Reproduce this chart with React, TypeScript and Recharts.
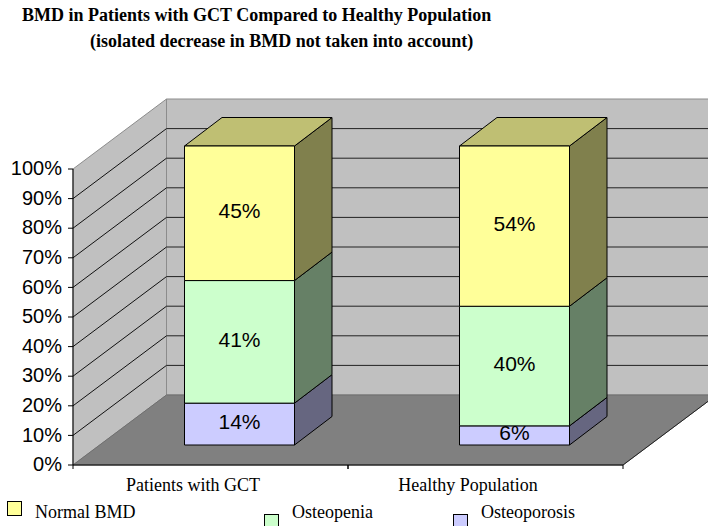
import { BarChart, Bar, XAxis, YAxis, ReferenceArea, LabelList } from 'recharts'

const categories = ['Patients with GCT', 'Healthy Population']
const osteoporosis = [14, 6.4]
const osteopenia = [41, 40]
const normalBmd = [45, 53.6]
const yTicks = [0, 10, 20, 30, 40, 50, 60, 70, 80, 90, 100]
const gridTicks = [10, 20, 30, 40, 50, 60, 70, 80, 90]

const data = categories.map((name, i) => ({
  name,
  osteoporosis: osteoporosis[i],
  osteopenia: osteopenia[i],
  normalBmd: normalBmd[i],
}))

const legendItems = [
  { label: 'Normal BMD', color: '#FFFF99', boxX: 7, boxY: 501, textX: 35 },
  { label: 'Osteopenia', color: '#CCFFCC', boxX: 264, boxY: 514, textX: 292 },
  { label: 'Osteoporosis', color: '#CCCCFF', boxX: 453, boxY: 514, textX: 481 },
]

// front plane of the fake 3D box
const WIDTH = 708
const HEIGHT = 526
const PLOT_LEFT = 73
const PLOT_RIGHT = 623
const PLOT_TOP = 169
const PLOT_BOTTOM = 465
const WALL_DX = 93.5
const WALL_DY = -70

// bars stand a bit inside the box
const BAR_SHIFT_X = 28.5
const BAR_BOTTOM = 445
const BAR_SCALE = 299 / 296
const BAR_DX = 37.5
const BAR_DY = -28.5

const SERIF = '"Liberation Serif", serif'
const SANS = '"Liberation Sans", sans-serif'

const barY = (y: number) => BAR_BOTTOM - (PLOT_BOTTOM - y) * BAR_SCALE

// side wall, back wall, floor and gridlines. Has to be one shape because
// reference lines would land on top of the bars
const Walls = ({ x, y, width, height }: any) => {
  const right = x + width
  const bottom = y + height
  const bx = x + WALL_DX
  const rx = right + WALL_DX
  const ty = y + WALL_DY
  const by = bottom + WALL_DY
  return (
    <g>
      <polygon points={`${bx},${ty} ${rx},${ty} ${rx},${by} ${bx},${by}`} fill="#C0C0C0" stroke="#8c8c8c" />
      <polygon points={`${x},${y} ${bx},${ty} ${bx},${by} ${x},${bottom}`} fill="#C0C0C0" stroke="#8c8c8c" />
      {gridTicks.map((t) => {
        const ly = bottom - (height * t) / 100
        return (
          <g key={t}>
            <line x1={x} y1={ly} x2={bx} y2={ly + WALL_DY} stroke="#111" />
            <line x1={bx} y1={ly + WALL_DY} x2={rx} y2={ly + WALL_DY} stroke="#222" />
          </g>
        )
      })}
      <polygon points={`${x},${bottom} ${bx},${by} ${rx},${by} ${right},${bottom}`} fill="#808080" stroke="#6f6f6f" />
      <line x1={right} y1={bottom} x2={rx} y2={by} stroke="#222" />
    </g>
  )
}

const makeBarShape = (sideFill: string, topFill?: string) => (props: any) => {
  const { x, y, width, height, fill } = props
  const left = x + BAR_SHIFT_X
  const right = left + width
  const top = barY(y)
  const bottom = barY(y + height)
  return (
    <g stroke="#000" strokeWidth={1} strokeLinejoin="round">
      <polygon
        points={`${right},${top} ${right + BAR_DX},${top + BAR_DY} ${right + BAR_DX},${bottom + BAR_DY} ${right},${bottom}`}
        fill={sideFill}
      />
      {topFill && (
        <polygon
          points={`${left},${top} ${left + BAR_DX},${top + BAR_DY} ${right + BAR_DX},${top + BAR_DY} ${right},${top}`}
          fill={topFill}
        />
      )}
      <rect x={left} y={top} width={width} height={bottom - top} fill={fill} />
    </g>
  )
}

const BarValue = ({ x, y, width, height, value }: any) => (
  <text
    x={x + BAR_SHIFT_X + width / 2}
    y={(barY(y) + barY(y + height)) / 2 - 2.5}
    textAnchor="middle"
    dominantBaseline="central"
    fontFamily={SANS}
    fontSize={21}
    fill="#000"
  >
    {Math.round(value)}%
  </text>
)

const CategoryTick = ({ x, y, payload }: any) => {
  const half = (PLOT_RIGHT - PLOT_LEFT) / categories.length / 2
  return (
    <g>
      <line x1={x - half} y1={PLOT_BOTTOM} x2={x - half} y2={PLOT_BOTTOM + 4} stroke="#000" />
      <line x1={x + half} y1={PLOT_BOTTOM} x2={x + half} y2={PLOT_BOTTOM + 4} stroke="#000" />
      <text x={x - 17.5} y={y + 18} textAnchor="middle" fontFamily={SERIF} fontSize={18} fill="#000">
        {payload.value}
      </text>
    </g>
  )
}

const titleStyle: React.CSSProperties = {
  position: 'absolute',
  fontFamily: SERIF,
  fontWeight: 'bold',
  fontSize: 18,
  lineHeight: '20px',
  whiteSpace: 'nowrap',
  color: '#000',
}

export default function App() {
  return (
    <div style={{ position: 'absolute', left: 0, top: 0, width: WIDTH, height: HEIGHT, overflow: 'hidden', background: '#fff' }}>
      <div style={{ ...titleStyle, left: 22, top: 5 }}>BMD in Patients with GCT Compared to Healthy Population</div>
      <div style={{ ...titleStyle, left: 90, top: 31 }}>(isolated decrease in BMD not taken into account)</div>

      <BarChart
        width={WIDTH}
        height={HEIGHT}
        data={data}
        margin={{ top: PLOT_TOP, right: WIDTH - PLOT_RIGHT, bottom: 31, left: 13 }}
        style={{ position: 'absolute', left: 0, top: 0 }}
      >
        <ReferenceArea y1={0} y2={100} ifOverflow="visible" shape={<Walls />} />
        <XAxis
          dataKey="name"
          height={30}
          tick={<CategoryTick />}
          tickLine={false}
          axisLine={{ stroke: '#000' }}
          interval={0}
        />
        <YAxis
          width={60}
          domain={[0, 100]}
          ticks={yTicks}
          interval={0}
          tickFormatter={(v) => `${v}%`}
          tick={{ fontFamily: SANS, fontSize: 20, fill: '#000', dy: -1 }}
          tickSize={5}
          tickMargin={6}
          tickLine={{ stroke: '#000' }}
          axisLine={{ stroke: '#000' }}
        />
        <Bar
          dataKey="osteoporosis"
          stackId="a"
          barSize={110}
          fill="#CCCCFF"
          shape={makeBarShape('#666680')}
          isAnimationActive={false}
        >
          <LabelList dataKey="osteoporosis" content={<BarValue />} />
        </Bar>
        <Bar
          dataKey="osteopenia"
          stackId="a"
          barSize={110}
          fill="#CCFFCC"
          shape={makeBarShape('#668066')}
          isAnimationActive={false}
        >
          <LabelList dataKey="osteopenia" content={<BarValue />} />
        </Bar>
        <Bar
          dataKey="normalBmd"
          stackId="a"
          barSize={110}
          fill="#FFFF99"
          shape={makeBarShape('#80804D', '#BFBF73')}
          isAnimationActive={false}
        >
          <LabelList dataKey="normalBmd" content={<BarValue />} />
        </Bar>
      </BarChart>

      {legendItems.map((item) => (
        <div key={item.label}>
          <div
            style={{
              position: 'absolute',
              left: item.boxX,
              top: item.boxY,
              width: 13,
              height: 13,
              background: item.color,
              border: '1px solid #000',
            }}
          />
          <div
            style={{
              position: 'absolute',
              left: item.textX,
              top: 502,
              fontFamily: SERIF,
              fontSize: 18,
              lineHeight: '20px',
              whiteSpace: 'nowrap',
              color: '#000',
            }}
          >
            {item.label}
          </div>
        </div>
      ))}
    </div>
  )
}
